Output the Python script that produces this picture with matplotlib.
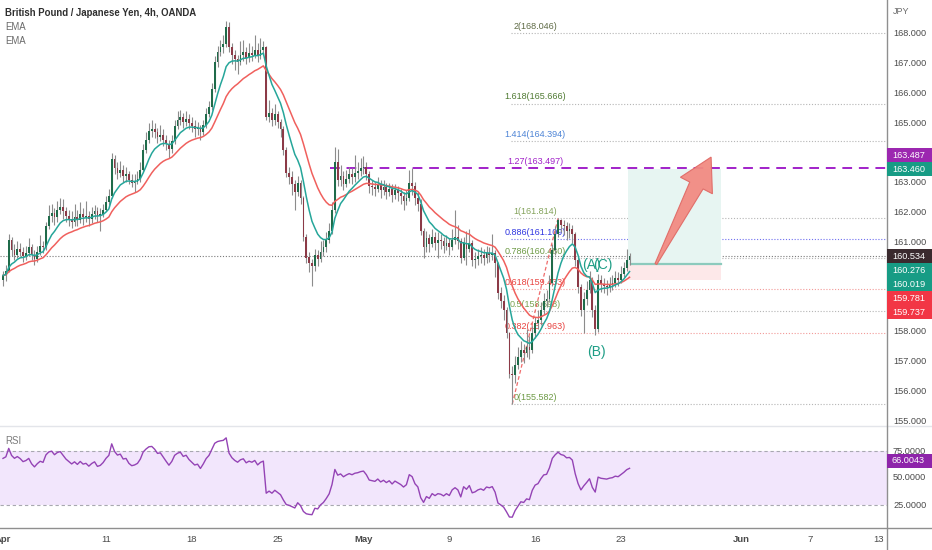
import numpy as np
import pandas as pd
import matplotlib
matplotlib.use("Agg")
import matplotlib.pyplot as plt
from matplotlib.patches import Rectangle, Polygon
from matplotlib.lines import Line2D
from matplotlib.transforms import IdentityTransform

# ---------------- data ----------------
first_open = 159.75
closes = [
    159.90, 160.05, 161.10, 160.75, 160.60, 160.80, 160.70, 160.55, 160.65, 160.85,
    160.60, 160.45, 160.70, 160.90, 160.85, 161.55, 161.90, 162.00, 161.85, 162.10,
    162.20, 162.05, 161.90, 161.80, 161.70, 161.85, 161.75, 161.95, 161.85, 161.90,
    161.80, 161.95, 162.05, 161.90, 161.95, 162.10, 162.35, 162.55, 163.80, 163.50,
    163.35, 163.45, 163.25, 163.30, 163.10, 163.00, 163.05, 163.15, 163.45, 164.10,
    164.45, 164.75, 164.80, 164.70, 164.55, 164.60, 164.45, 164.30, 164.15, 164.40,
    164.90, 165.10, 165.20, 165.05, 165.15, 165.00, 164.90, 164.80, 164.85, 164.70,
    164.95, 165.30, 165.55, 166.15, 167.05, 167.40, 167.55, 167.65, 168.25, 167.55,
    167.30, 167.15, 167.05, 167.30, 167.40, 167.20, 167.35, 167.30, 167.45, 167.25,
    167.45, 167.55, 165.20, 165.35, 165.10, 165.30, 165.05, 164.80, 164.10, 163.35,
    163.20, 162.95, 162.70, 163.00, 162.50, 161.20, 160.50, 160.30, 160.20, 160.60,
    160.45, 160.70, 160.85, 161.10, 161.40, 162.10, 163.70, 163.10, 163.25, 162.95,
    163.15, 163.30, 163.20, 163.35, 163.40, 163.50, 163.55, 163.30, 162.90, 162.85,
    162.80, 162.95, 162.75, 162.85, 162.70, 162.80, 162.60, 162.75, 162.65, 162.55,
    162.40, 162.50, 163.00, 162.90, 162.50, 162.30, 161.40, 160.85, 161.15, 160.95,
    161.20, 161.00, 161.10, 161.05, 160.90, 161.00, 160.85, 161.10, 161.20, 161.05,
    160.50, 161.00, 160.80, 161.00, 160.40, 160.45, 160.55, 160.60, 160.50, 160.65,
    160.60, 160.65, 160.30, 159.30, 159.05, 158.75, 157.95, 156.60, 156.55, 156.90,
    157.15, 157.40, 157.30, 157.50, 157.40, 157.95, 158.30, 158.40, 158.75, 159.05,
    159.10, 159.65, 160.75, 161.30, 161.75, 161.60, 161.55, 161.40, 161.45, 161.30,
    160.40, 159.50, 158.75, 159.10, 159.40, 159.75, 158.75, 158.10, 159.75, 159.60,
    159.55, 159.50, 159.60, 159.65, 159.80, 159.75, 159.95, 160.15, 160.40, 160.534,
]
highs = [
    160.05, 160.25, 161.30, 161.20, 160.95, 161.05, 161.00, 160.85, 160.90, 161.15,
    160.95, 160.75, 160.90, 161.25, 161.05, 161.70, 162.25, 162.30, 162.15, 162.40,
    162.50, 162.45, 162.20, 162.10, 162.05, 162.30, 162.10, 162.35, 162.15, 162.40,
    162.05, 162.20, 162.25, 162.20, 162.15, 162.30, 162.55, 162.80, 164.00, 163.95,
    163.70, 163.75, 163.60, 163.55, 163.40, 163.30, 163.30, 163.40, 163.70, 164.30,
    164.70, 165.00, 165.10, 165.00, 164.85, 164.95, 164.80, 164.60, 164.45, 164.60,
    165.10, 165.40, 165.45, 165.35, 165.40, 165.30, 165.20, 165.10, 165.05, 164.95,
    165.10, 165.50, 165.75, 166.35, 167.25, 167.60, 167.80, 167.95, 168.45, 168.40,
    167.70, 167.45, 167.30, 167.75, 167.80, 167.55, 167.70, 167.60, 167.95, 167.70,
    167.85, 167.75, 167.60, 165.80, 165.50, 165.65, 165.40, 165.15, 164.90, 164.20,
    163.55, 163.40, 163.10, 163.25, 163.10, 162.55, 161.30, 160.70, 160.45, 160.80,
    160.75, 161.05, 161.10, 161.35, 161.65, 162.35, 164.20, 164.15, 163.60, 163.40,
    163.45, 163.55, 163.50, 163.95, 163.70, 163.85, 163.90, 163.70, 163.40, 163.10,
    163.05, 163.20, 163.10, 163.10, 163.00, 163.00, 162.95, 162.95, 162.90, 162.80,
    162.70, 162.75, 163.45, 163.50, 163.05, 162.70, 162.45, 161.50, 161.40, 161.30,
    161.45, 161.35, 161.35, 161.30, 161.20, 161.25, 161.15, 161.45, 162.10, 161.60,
    161.15, 161.20, 161.40, 161.45, 161.10, 160.70, 160.80, 160.85, 160.80, 160.90,
    160.85, 161.30, 160.75, 160.35, 159.50, 159.25, 158.85, 158.00, 156.85, 157.20,
    157.50, 157.70, 157.60, 158.10, 157.85, 158.20, 158.50, 158.75, 159.00, 159.30,
    159.40, 159.90, 160.95, 161.55, 161.81, 161.80, 161.75, 161.70, 161.65, 161.60,
    161.35, 160.50, 159.60, 159.35, 159.70, 160.05, 159.85, 158.90, 159.95, 159.90,
    159.80, 159.75, 159.85, 159.90, 160.05, 160.00, 160.20, 160.35, 160.80, 160.65,
]
lows = [
    159.55, 159.70, 160.00, 160.55, 160.40, 160.50, 160.55, 160.35, 160.40, 160.55,
    160.40, 160.25, 160.35, 160.60, 160.65, 160.75, 161.45, 161.70, 161.60, 161.70,
    161.95, 161.80, 161.70, 161.55, 161.50, 161.55, 161.55, 161.65, 161.60, 161.70,
    161.55, 161.65, 161.80, 161.70, 161.40, 161.85, 162.05, 162.25, 162.50, 163.30,
    163.15, 163.20, 163.05, 163.05, 162.95, 162.85, 162.70, 162.95, 163.05, 163.40,
    164.00, 164.35, 164.55, 164.50, 164.35, 164.40, 164.25, 164.10, 163.85, 164.00,
    164.30, 164.80, 164.95, 164.85, 164.90, 164.80, 164.70, 164.55, 164.60, 164.45,
    164.60, 164.85, 165.20, 165.45, 166.05, 166.90, 167.25, 167.35, 167.55, 167.40,
    167.00, 166.80, 166.65, 166.95, 167.10, 167.00, 167.05, 167.10, 167.20, 167.05,
    167.15, 167.30, 165.10, 165.05, 164.90, 164.95, 164.85, 164.55, 163.95, 163.20,
    162.95, 162.60, 162.10, 162.55, 162.30, 161.05, 160.30, 160.00, 159.55, 160.05,
    160.20, 160.35, 160.55, 160.70, 161.00, 161.30, 162.00, 162.90, 162.90, 162.75,
    162.85, 163.00, 162.95, 163.05, 163.15, 163.25, 163.30, 163.10, 162.65, 162.60,
    162.55, 162.70, 162.50, 162.60, 162.45, 162.55, 162.35, 162.45, 162.40, 162.30,
    162.10, 162.25, 162.40, 162.60, 162.25, 162.05, 161.25, 160.50, 160.70, 160.70,
    160.85, 160.75, 160.50, 160.80, 160.65, 160.75, 160.60, 160.75, 160.95, 160.80,
    160.30, 160.40, 160.25, 160.70, 160.20, 160.15, 160.25, 160.30, 160.25, 160.30,
    160.35, 160.40, 159.85, 159.10, 158.80, 158.40, 157.80, 156.45, 155.58, 156.30,
    156.75, 157.00, 156.95, 157.15, 157.10, 157.30, 157.80, 158.10, 158.25, 158.60,
    158.85, 159.00, 159.55, 160.60, 161.20, 161.35, 161.25, 161.10, 161.15, 161.00,
    160.20, 159.30, 158.55, 157.95, 158.90, 159.30, 158.50, 157.90, 158.00, 159.35,
    159.30, 159.25, 159.35, 159.40, 159.50, 159.55, 159.65, 159.85, 160.05, 160.25,
]

date_pos = [0, 36, 66, 96, 126, 156, 186, 216, 258, 282, 306]
date_txt = ["Apr", "11", "18", "25", "May", "9", "16", "23", "Jun", "7", "13"]
month_labels = {"Apr", "May", "Jun"}

fib_ratio = ["2", "1.618", "1.414", "1.27", "1", "0.886", "0.786", "0.618", "0.5", "0.382", "0"]
fib_price = [168.046, 165.666, 164.394, 163.497, 161.814, 161.109, 160.480, 159.433, 158.698, 157.963, 155.582]
fib_text_col = ["#5f6b45", "#4f7a32", "#4d84d6", "#a121c9", "#84a35c", "#2f35e0",
                "#6d9a45", "#e8423f", "#7aa352", "#e8423f", "#6d9a45"]
fib_line_col = ["#b5b5b5", "#b5b5b5", "#b5b5b5", "#a121c9", "#b5b5b5", "#6f6ff0",
                "#b5b5b5", "#f29a98", "#b5b5b5", "#f29a98", "#b5b5b5"]
fib_start_bar = 177.5
fib_label_bar = 186
fib_low_bar, fib_high_bar = 178, 194
level_127_start_bar = 114.3

entry_price, target_price, stop_price = 160.276, 163.460, 159.737
pos_bars = (218.5, 251)
arrow_from = (228.2, 160.28)
arrow_to = (247.5, 163.87)

waves = [("(A)", 205.8, 160.26), ("(C)", 209.7, 160.26), ("(B)", 207.3, 157.33)]

last_price = 160.534
rsi_last_label = 66.0043
badges = [  # value, text, colour
    (163.487, "163.487", "#9c27b0"),
    (163.460, "163.460", "#179c85"),
    (160.534, "160.534", "#3a2a2e"),
    (160.276, "160.276", "#179c85"),
    (160.019, "160.019", "#179c85"),
    (159.781, "159.781", "#f23645"),
    (159.737, "159.737", "#f23645"),
]
price_ticks = list(range(155, 169))
rsi_ticks = [25, 50, 75]

# ---------------- figure ----------------
W, H = 932, 550
plt.rcParams["font.family"] = ["Liberation Sans", "DejaVu Sans"]
fig = plt.figure(figsize=(W / 100, H / 100), dpi=100)
fig.patch.set_facecolor("white")

PANE_R = 887
PRICE_B = 426
RSI_B = 528
PX_PER_BAR = 2.861
X0 = 3.0

ax = fig.add_axes([0, 1 - PRICE_B / H, PANE_R / W, PRICE_B / H])
rax = fig.add_axes([0, 1 - RSI_B / H, PANE_R / W, (RSI_B - PRICE_B) / H])
for a in (ax, rax):
    a.set_axis_off()
    a.set_xlim(-X0 / PX_PER_BAR, (PANE_R - X0) / PX_PER_BAR)

ax.set_ylim(168 - (PRICE_B - 34) / 29.8, 168 + 34 / 29.8)
rpp = (505 - 451) / 50.0
rax.set_ylim(25 - (RSI_B - 505) / rpp, 75 + (451 - PRICE_B) / rpp)

c = np.array(closes)
h = np.array(highs)
l = np.array(lows)
o = np.concatenate([[first_open], c[:-1]])
n = len(c)
idx = np.arange(n)

# fib levels (behind candles)
xr = ax.get_xlim()[1]
for r, p, tc, lc in zip(fib_ratio, fib_price, fib_text_col, fib_line_col):
    if r == "1.27":
        ax.plot([level_127_start_bar, xr], [p, p], color=lc, lw=1.4,
                linestyle=(0, (5, 3.5)), zorder=2)
    else:
        ax.plot([fib_start_bar, xr], [p, p], color=lc, lw=0.8,
                linestyle=(0, (1, 1.6)), zorder=1)
    ax.annotate(f"{r}({p:.3f})", (fib_label_bar, p), xytext=(0, 1.5),
                textcoords="offset points", ha="center", va="bottom",
                fontsize=6.5, color=tc, zorder=1)
ax.plot([fib_low_bar, fib_high_bar], [fib_price[-1], fib_price[4]],
        color="#ef6b6b", lw=0.9, linestyle=(0, (3, 2)), zorder=2)

# last price dotted line
ax.plot([ax.get_xlim()[0], xr], [last_price, last_price], color="#7a7a7a", lw=0.8,
        linestyle=(0, (1, 1.6)), zorder=1)

# position box
ax.add_patch(Rectangle((pos_bars[0], entry_price), pos_bars[1] - pos_bars[0],
                       target_price - entry_price, facecolor="#e7f5f2", edgecolor="none", zorder=1))
ax.add_patch(Rectangle((pos_bars[0], stop_price), pos_bars[1] - pos_bars[0],
                       entry_price - stop_price, facecolor="#fde8e9", edgecolor="none", zorder=1))
ax.plot([pos_bars[0] + 1, pos_bars[1]], [entry_price, entry_price], color="#8ccabd", lw=1.6, zorder=1.5)

# candles
bull = "#1f6b4a"
bear = "#8c3a47"
ax.vlines(idx, l, h, color="#8c8c8c", lw=0.8, zorder=3)
up = c >= o
body = np.maximum(np.abs(c - o), 0.03)
ax.bar(idx[up], body[up], bottom=o[up], width=0.62, color=bull, zorder=4, linewidth=0)
ax.bar(idx[~up], body[~up], bottom=c[~up], width=0.62, color=bear, zorder=4, linewidth=0)

# EMAs
s = pd.Series(c)
ema_fast = s.ewm(span=9, adjust=False).mean()
ema_slow = s.ewm(span=21, adjust=False).mean()
ax.plot(idx, ema_slow, color="#f0605d", lw=1.1, zorder=5)
ax.plot(idx, ema_fast, color="#26a69a", lw=1.1, zorder=5)

# wave labels
for t, xb, yp in waves:
    ax.text(xb, yp, t, color="#1f9e86", fontsize=10, ha="center", va="center", zorder=6)

# arrow (tapered tail, wide head) built in display space from its two anchors
T = ax.transData.transform(arrow_from)
P = ax.transData.transform(arrow_to)
u = (P - T) / np.linalg.norm(P - T)
nv = np.array([-u[1], u[0]])
B = P - u * 32
pts = [T + nv * 1.0, B + nv * 7.5, B + nv * 18, P, B - nv * 18, B - nv * 7.5, T - nv * 1.0]
ax.add_patch(Polygon(pts, closed=True, transform=IdentityTransform(),
                     facecolor="#f28b82", edgecolor="#e06a66", lw=0.8, alpha=0.95, zorder=7))

# RSI (Wilder, 14) seeded with the mean of the first 14 moves
full = np.concatenate([[first_open], c])
d = np.diff(full)
g = np.clip(d, 0, None)
ls = np.clip(-d, 0, None)
ag, al = g[:14].mean(), ls[:14].mean()
rsi = np.empty(n)
for k in range(n):
    ag = (ag * 13 + g[k]) / 14
    al = (al * 13 + ls[k]) / 14
    rsi[k] = 100 - 100 / (1 + ag / al) if al > 0 else 100
rax.axhspan(25, 75, color="#f2e6fc", zorder=0, lw=0)
for lvl in (25, 75):
    rax.axhline(lvl, color="#a8a8b0", lw=0.8, linestyle=(0, (3, 2.5)), zorder=1)
rax.plot(idx, rsi, color="#9443b5", lw=1.0, zorder=3)

# separators / right axis line
fig.add_artist(Line2D([0, 1], [1 - PRICE_B / H] * 2, transform=fig.transFigure, color="#e3e5ea", lw=1))
fig.add_artist(Line2D([0, 1], [1 - RSI_B / H] * 2, transform=fig.transFigure, color="#8f8f8f", lw=1))
fig.add_artist(Line2D([PANE_R / W] * 2, [0, 1], transform=fig.transFigure, color="#8f8f8f", lw=1))

# header texts
fig.text(5 / W, 1 - 13 / H, "British Pound / Japanese Yen, 4h, OANDA", fontsize=6.9,
         color="#2f2f2f", fontweight="semibold", va="center", ha="left")
fig.text(5 / W, 1 - 27 / H, "EMA", fontsize=6.9, color="#6a6a6a", va="center")
fig.text(5 / W, 1 - 41 / H, "EMA", fontsize=6.9, color="#6a6a6a", va="center")
fig.text(5 / W, 1 - 441 / H, "RSI", fontsize=6.9, color="#7a7a7a", va="center")
fig.text(893 / W, 1 - 12 / H, "JPY", fontsize=6.5, color="#6a6a6a", va="center")

# dates
for pos, t in zip(date_pos, date_txt):
    xd = ax.transData.transform((pos, 160))[0]
    fig.text(xd / W, 1 - 540 / H, t, fontsize=6.8, color="#4a4a4a", ha="center", va="center",
             fontweight="bold" if t in month_labels else "normal")

# badges with stacking around last price
def ydisp(axx, v):
    return axx.transData.transform((0, v))[1]

BH = 14
vals = sorted(badges, key=lambda b: -b[0])
pos_y = {}
ref = ydisp(ax, last_price)
below = [b for b in vals if b[0] < last_price]
above = sorted([b for b in vals if b[0] > last_price], key=lambda b: b[0])
pos_y[last_price] = ref
prev = ref
for b in below:
    y = min(ydisp(ax, b[0]), prev - BH)
    pos_y[b[0]] = y
    prev = y
prev = ref
for b in above:
    y = max(ydisp(ax, b[0]), prev + BH)
    pos_y[b[0]] = y
    prev = y

rsi_badge_y = ydisp(rax, rsi_last_label)
all_badge_y = list(pos_y.values()) + [rsi_badge_y]

def draw_badge(y, text, col):
    fig.add_artist(Rectangle((PANE_R / W, (y - BH / 2) / H), (W - PANE_R) / W, BH / H,
                             transform=fig.transFigure, facecolor=col, edgecolor="none", zorder=10))
    fig.text(892 / W, y / H, text, fontsize=6.6, color="white", va="center", ha="left", zorder=11)

TICK_FS = 6.6
for p in price_ticks:
    y = ydisp(ax, p)
    if min(abs(y - by) for by in all_badge_y) < 10:
        continue
    fig.text(893 / W, y / H, f"{p:.3f}", fontsize=TICK_FS, color="#4a4a4a", va="center", ha="left")
for p in rsi_ticks:
    y = ydisp(rax, p)
    fig.text(893 / W, y / H, f"{p:.4f}", fontsize=TICK_FS, color="#4a4a4a", va="center", ha="left")

for v, t, col in badges:
    draw_badge(pos_y[v], t, col)
draw_badge(rsi_badge_y, f"{rsi_last_label:.4f}", "#8e24aa")

fig.savefig("out.png", dpi=100, facecolor="white")
